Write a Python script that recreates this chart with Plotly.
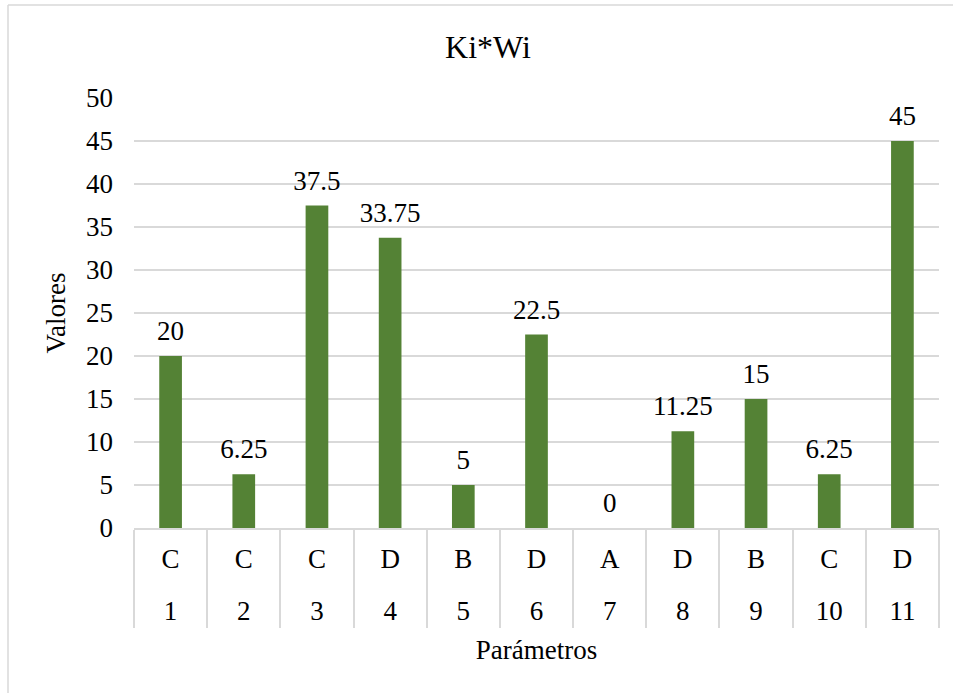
import plotly.graph_objects as go

# Parameter numbers, their class letters and the Ki*Wi value for each
parametros = ["1", "2", "3", "4", "5", "6", "7", "8", "9", "10", "11"]
clases = ["C", "C", "C", "D", "B", "D", "A", "D", "B", "C", "D"]
valores = [20, 6.25, 37.5, 33.75, 5, 22.5, 0, 11.25, 15, 6.25, 45]
y_ticks = [0, 5, 10, 15, 20, 25, 30, 35, 40, 45, 50]

W, H = 953, 693
ML, MR, MT, MB = 134, 14, 98, 165
PW, PH = W - ML - MR, H - MT - MB

FONT = "Liberation Serif"
FS = 27
GRID = "#d9d9d9"
BAR = "#548235"
BLACK = "#000000"

n = len(parametros)
pos = list(range(n))
xrange = [-0.5, n - 0.5]

fig = go.Figure()
fig.add_trace(go.Bar(
    x=parametros, y=valores,
    marker=dict(color=BAR, line=dict(width=0)),
    hoverinfo="y",
))
# value labels above each bar (transparent marker sets the gap)
fig.add_trace(go.Scatter(
    x=parametros, y=valores, mode="markers+text",
    text=[f"{v:g}" for v in valores],
    textposition="top center",
    textfont=dict(family=FONT, size=FS, color=BLACK),
    marker=dict(size=13, opacity=0),
    cliponaxis=False, hoverinfo="skip",
))
# invisible companions so the two label rows of the category axis are drawn
for ax in ("x2", "x3"):
    fig.add_trace(go.Scatter(
        x=pos, y=valores, xaxis=ax, yaxis="y", mode="markers",
        marker=dict(size=1, opacity=0), hoverinfo="skip",
    ))

# chart-area border (left and top edges)
bx = (8 - ML) / PW
by = (H - MB - 5) / PH
fig.add_shape(type="line", xref="paper", yref="paper", x0=bx, x1=1.1, y0=by, y1=by,
              line=dict(color=GRID, width=1.5))
fig.add_shape(type="line", xref="paper", yref="paper", x0=bx, x1=bx, y0=by, y1=-0.5,
              line=dict(color=GRID, width=1.5))

fig.update_layout(
    width=W, height=H,
    margin=dict(l=ML, r=MR, t=MT, b=MB),
    paper_bgcolor="white", plot_bgcolor="white",
    bargap=0.69,
    showlegend=False,
    font=dict(family=FONT, size=FS, color=BLACK),
    title=dict(text="Ki*Wi", x=488 / W, xref="container", xanchor="center",
               y=1 - 47 / H, yref="container", yanchor="middle",
               font=dict(family=FONT, size=32, color=BLACK)),
    # primary category axis: baseline and the category dividers
    xaxis=dict(
        type="category", range=xrange, showline=True, linecolor=GRID, linewidth=1.5,
        ticks="outside", tickson="boundaries", ticklen=98, tickcolor=GRID, tickwidth=1.5,
        showticklabels=False, showgrid=False, zeroline=False,
    ),
    # inner row: class letters
    xaxis2=dict(
        type="linear", overlaying="x", anchor="y", side="bottom", range=xrange,
        tickmode="array", tickvals=pos, ticktext=clases, ticks="", ticklabelstandoff=12,
        tickfont=dict(family=FONT, size=FS, color=BLACK),
        showgrid=False, zeroline=False, showline=False,
    ),
    # outer row: parameter numbers and axis title
    xaxis3=dict(
        type="linear", overlaying="x", anchor="y", side="bottom", range=xrange,
        tickmode="array", tickvals=pos, ticktext=parametros, ticks="", ticklabelstandoff=64,
        tickfont=dict(family=FONT, size=FS, color=BLACK),
        showgrid=False, zeroline=False, showline=False,
        title=dict(text="Parámetros", standoff=15, font=dict(family=FONT, size=FS, color=BLACK)),
    ),
    yaxis=dict(
        range=[0, 50], tickvals=y_ticks, showgrid=True, gridcolor=GRID, gridwidth=1.5,
        zeroline=False, showline=False, ticks="", ticklabelstandoff=20,
        tickfont=dict(family=FONT, size=FS, color=BLACK),
        title=dict(text="Valores", standoff=12, font=dict(family=FONT, size=FS, color=BLACK)),
    ),
)

fig.write_html("out.html")
